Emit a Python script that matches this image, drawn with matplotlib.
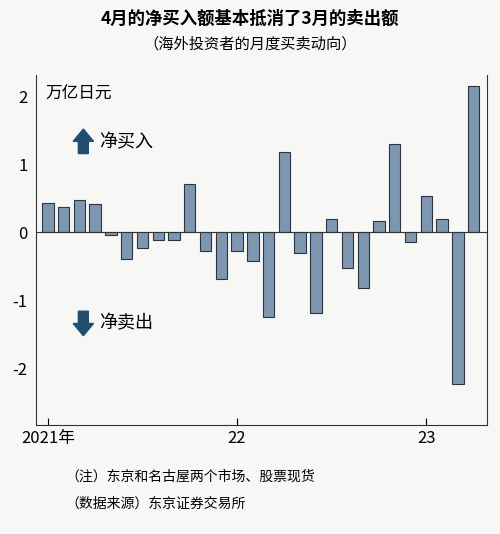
import matplotlib
matplotlib.use("Agg")
import matplotlib.pyplot as plt
from matplotlib.patches import FancyArrow

plt.rcParams['font.family'] = ['Noto Sans CJK SC', 'DejaVu Sans']

months = list(range(28))
values = [0.43, 0.37, 0.48, 0.42, -0.04, -0.40, -0.23, -0.12, -0.12, 0.71, -0.27, -0.69,
          -0.27, -0.43, -1.25, 1.18, -0.30, -1.19, 0.19, -0.52, -0.82, 0.17, 1.30, -0.14,
          0.53, 0.20, -2.23, 2.16]
xtick_pos = [0, 12, 24]
xtick_labels = ['2021年', '22', '23']
yticks = [-2, -1, 0, 1, 2]

bg = '#f7f7f5'
fig = plt.figure(figsize=(5, 5.34), dpi=100, facecolor=bg)
ax = fig.add_axes([0.072, 0.204, 0.902, 0.656], facecolor=bg)
ax.bar(months, values, width=0.72, color='#7e97b0', edgecolor='#2b3440', linewidth=0.8)
ax.axhline(0, color='#333333', lw=0.8)
ax.set_xlim(-0.75, 27.85)
ax.set_ylim(-2.84, 2.32)
ax.set_yticks(yticks)
ax.set_yticklabels([str(v) for v in yticks], fontsize=12)
ax.set_xticks(xtick_pos)
ax.set_xticklabels(xtick_labels, fontsize=12)
ax.tick_params(axis='y', length=0, pad=6)
ax.tick_params(axis='x', direction='in', length=5)
ax.spines['top'].set_visible(False)
for s in ['left', 'bottom', 'right']:
    ax.spines[s].set_color('#333333')
    ax.spines[s].set_linewidth(0.8)

ax.text(0.02, 0.97, '万亿日元', transform=ax.transAxes, fontsize=12, va='top')
ax.add_patch(FancyArrow(0.105, 0.775, 0, 0.07, width=0.022, head_width=0.045, head_length=0.035,
                        length_includes_head=True, transform=ax.transAxes, color='#1f4e6e'))
ax.text(0.14, 0.806, '净买入', transform=ax.transAxes, fontsize=13, va='center')
ax.add_patch(FancyArrow(0.105, 0.325, 0, -0.07, width=0.022, head_width=0.045, head_length=0.035,
                        length_includes_head=True, transform=ax.transAxes, color='#1f4e6e'))
ax.text(0.14, 0.291, '净卖出', transform=ax.transAxes, fontsize=13, va='center')

fig.text(0.5, 0.955, '4月的净买入额基本抵消了3月的卖出额', ha='center', fontsize=12.5, fontweight='bold')
fig.text(0.5, 0.91, '（海外投资者的月度买卖动向）', ha='center', fontsize=11)
fig.text(0.13, 0.1, '（注）东京和名古屋两个市场、股票现货', fontsize=10)
fig.text(0.13, 0.05, '（数据来源）东京证券交易所', fontsize=10)
fig.savefig('out.png', dpi=100, facecolor=bg)
